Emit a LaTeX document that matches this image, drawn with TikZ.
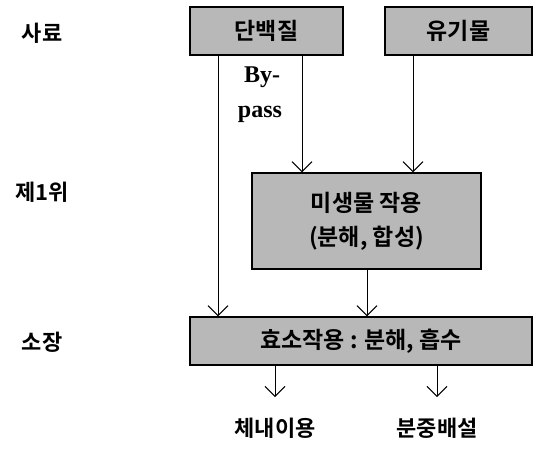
\documentclass[tikz,border=0pt]{standalone}
\usepackage{fontspec}
\setmainfont{Liberation Serif}
\newfontfamily\kr{Noto Sans CJK KR}[BoldFont={* Bold}]
\usetikzlibrary{arrows.meta}
\tikzset{
  graybox/.style={draw=black, line width=1.2pt, fill=black!28, inner sep=0pt},
  lbl/.style={font=\kr\bfseries\fontsize{22}{26}\selectfont, inner sep=0pt},
  boxtxt/.style={font=\kr\bfseries\fontsize{23}{28}\selectfont, inner sep=0pt},
  conn/.style={line width=1pt, -{Straight Barb[length=10pt,width=20pt,line width=1pt]}},
  plain/.style={line width=1pt}
}
\begin{document}
\begin{tikzpicture}[x=1pt,y=-1pt]
\useasboundingbox (0,0) rectangle (536,450);
% boxes
\node[graybox, minimum width=153pt, minimum height=48pt] (dan) at (266.5,31) {};
\node[boxtxt] at (dan.center) {단백질};
\node[graybox, minimum width=147pt, minimum height=48pt] (yu) at (458.5,31) {};
\node[boxtxt] at (yu.center) {유기물};
\node[graybox, minimum width=229pt, minimum height=96pt] (mic) at (366.5,221) {};
\node[boxtxt, align=center] at (mic.center) {미생물 작용\\[6pt](분해, 합성)};
\node[graybox, minimum width=342pt, minimum height=48pt] (enz) at (361,341) {};
\node[boxtxt] at (enz.center) {효소작용 : 분해, 흡수};
% row labels
\node[lbl] (l1) at (42,33) {사료};
\node[lbl] (l2) at (42,192) {제1위};
\node[lbl] (l3) at (42,342) {소장};
% bypass text
\node[font=\bfseries\fontsize{24}{28}\selectfont, inner sep=0pt] (by) at (262,77) {By-};
\node[font=\bfseries\fontsize{24}{28}\selectfont, inner sep=0pt] (pass) at (260,114) {pass};
% outputs
\node[lbl] (o1) at (275,428) {체내이용};
\node[lbl] (o2) at (437,428) {분중배설};
% connectors
\coordinate (d1) at (218,55);
\coordinate (d2) at (302,55);
\coordinate (y1) at (413,55);
\draw[conn] (d1) -- (d1 |- enz.north);
\draw[conn] (d2) -- (d2 |- mic.north);
\draw[conn] (y1) -- (y1 |- mic.north);
\coordinate (m1) at (367,269);
\draw[conn] (m1) -- (m1 |- enz.north);
\coordinate (e1) at (275,365);
\coordinate (e2) at (437,365);
\draw[conn] (e1) -- (275,397);
\draw[conn] (e2) -- (437,397);
\end{tikzpicture}
\end{document}
